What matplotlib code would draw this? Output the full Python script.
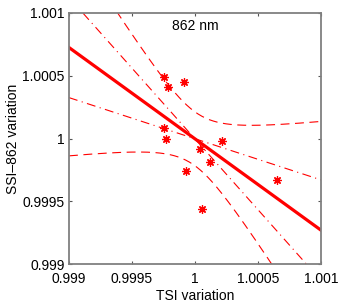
import matplotlib
matplotlib.use("Agg")
import matplotlib.pyplot as plt
import numpy as np

plt.rcParams["font.family"] = ["Liberation Sans", "DejaVu Sans"]
plt.rcParams["font.size"] = 10

# scatter values
tsi = np.array([0.999756, 0.999783, 0.999915, 0.999751, 0.999767, 0.999929,
                1.000042, 1.000116, 1.000212, 1.000056, 1.000651])
ssi = np.array([1.000487, 1.000410, 1.000447, 1.000085, 0.999997, 0.999743,
                0.999913, 0.999815, 0.999979, 0.999442, 0.999667])

band_t = 2.45        # multiplier of the dashed confidence band
slope_delta = 0.40   # spread of the dash-dot slope lines
xlim = (0.999, 1.001)
ylim = (0.999, 1.001)
ticks = [0.999, 0.9995, 1.0, 1.0005, 1.001]
tick_labels = ["0.999", "0.9995", "1", "1.0005", "1.001"]

# least squares fit
slope, icpt = np.polyfit(tsi, ssi, 1)
n = len(tsi)
xm, ym = tsi.mean(), ssi.mean()
sxx = np.sum((tsi - xm) ** 2)
s = np.sqrt(np.sum((ssi - (slope * tsi + icpt)) ** 2) / (n - 2))

xx = np.linspace(xlim[0], xlim[1], 200)
yfit = slope * xx + icpt
half = band_t * s * np.sqrt(1.0 / n + (xx - xm) ** 2 / sxx)

fig = plt.figure(figsize=(3.43, 3.06), dpi=100)
ax = fig.add_axes([69 / 343, 42 / 306, 252 / 343, 251 / 306])

ax.plot(xx, yfit, color="red", lw=2.3)
ax.plot(xx, yfit + half, color="red", lw=0.8, ls=(0, (8, 5)))
ax.plot(xx, yfit - half, color="red", lw=0.8, ls=(0, (8, 5)))
ax.plot(xx, ym + (slope + slope_delta) * (xx - xm), color="red", lw=0.8, ls=(0, (8, 4, 1, 4)))
ax.plot(xx, ym + (slope - slope_delta) * (xx - xm), color="red", lw=0.8, ls=(0, (8, 4, 1, 4)))
ax.plot(tsi, ssi, ls="none", marker=(8, 2, 0), color="red", ms=6, mew=0.9)

ax.set_xlim(xlim)
ax.set_ylim(ylim)
ax.set_xticks(ticks)
ax.set_xticklabels(tick_labels)
ax.set_yticks(ticks)
ax.set_yticklabels(tick_labels)
ax.tick_params(direction="in", length=2.5, width=0.8, color="#555555",
               top=True, right=True)
ax.tick_params(axis="x", pad=6)
ax.tick_params(axis="y", pad=3)
for sp in ax.spines.values():
    sp.set_color("#808080")
    sp.set_linewidth(1.3)

ax.text(0.5, 0.95, "862 nm", transform=ax.transAxes, ha="center", va="center")
ax.set_xlabel("TSI variation", labelpad=2)
ax.set_ylabel("SSI\u2013862 variation", labelpad=2)

fig.savefig("out.png", dpi=100)
